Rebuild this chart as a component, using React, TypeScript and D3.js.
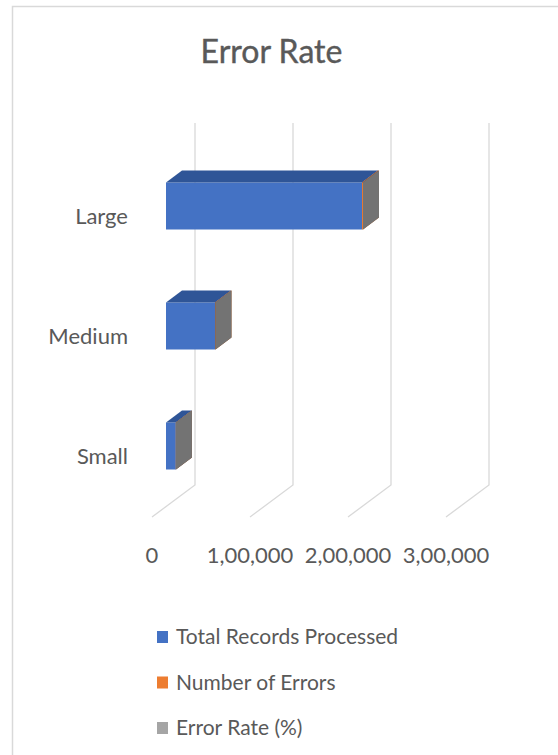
import React from "react";
import * as d3 from "d3";

const categories = ["Large", "Medium", "Small"];
const totalRecords = [200000, 50000, 10000];
const numberOfErrors = [1000, 500, 100];
const errorRatePct = [0.5, 1, 1];
const seriesNames = ["Total Records Processed", "Number of Errors", "Error Rate (%)"];
const xTicks = [0, 100000, 200000, 300000];
const xTickLabels = ["0", "1,00,000", "2,00,000", "3,00,000"];

const W = 558;
const H = 755;
const FONT = "Lato, 'Open Sans', sans-serif";
const TEXT = "#595959";

const colors = [
  { front: "#4472C4", top: "#2F5597", side: "#30528f" },
  { front: "#ED7D31", top: "#C55A11", side: "#b35a1e" },
  { front: "#A5A5A5", top: "#8a8a8a", side: "#737373" },
];

export default function App() {
  const x = d3.scaleLinear().domain([0, 300000]).range([0, 294]);
  const backX0 = 195;
  const barX0 = 166;
  const floorDx = -43;
  const floorDy = 32;
  const wallTop = 123;
  const wallBottom = 485;
  const depthDx = 16;
  const depthDy = -12;

  const y = d3.scaleBand<string>().domain(categories).range([146, 506]);
  const barH = 47;

  const gridPath = (v: number) => {
    const xb = backX0 + x(v);
    return d3.line()([
      [xb, wallTop],
      [xb, wallBottom],
      [xb + floorDx, wallBottom + floorDy],
    ]) as string;
  };

  const series = [totalRecords, numberOfErrors, errorRatePct];

  const bars: JSX.Element[] = [];
  categories.forEach((c, i) => {
    const yc = (y(c) as number) + y.bandwidth() / 2;
    const top = yc - barH / 2;
    const bottom = yc + barH / 2;
    let cum = 0;
    series.forEach((s, si) => {
      const v0 = cum;
      const v1 = cum + s[i];
      cum = v1;
      const x0 = barX0 + x(v0);
      const x1 = barX0 + x(v1);
      const col = colors[si];
      const poly = (pts: [number, number][]) => pts.map((p) => p.join(",")).join(" ");
      bars.push(
        <g key={`${c}-${si}`}>
          <rect x={x0} y={top} width={Math.max(0, x1 - x0)} height={barH} fill={col.front} />
          <polygon
            points={poly([
              [x0, top],
              [x1, top],
              [x1 + depthDx, top + depthDy],
              [x0 + depthDx, top + depthDy],
            ])}
            fill={col.top}
          />
          <polygon
            points={poly([
              [x1, top],
              [x1 + depthDx, top + depthDy],
              [x1 + depthDx, bottom + depthDy],
              [x1, bottom],
            ])}
            fill={col.side}
          />
        </g>
      );
    });
  });

  return (
    <div style={{ position: "absolute", left: 0, top: 0 }}>
      <svg width={W} height={H} style={{ display: "block", background: "#fff" }}>
        <rect x={12.5} y={6.5} width={600} height={800} fill="#fff" stroke="#d9d9d9" strokeWidth={1.5} />
        <text x={271.5} y={63} textAnchor="middle" fontFamily={FONT} fontSize={32} fill={TEXT} stroke={TEXT} strokeWidth={0.4}>
          Error Rate
        </text>
        {xTicks.map((t) => (
          <path key={t} d={gridPath(t)} fill="none" stroke="#d9d9d9" strokeWidth={1.3} />
        ))}
        {bars}
        {categories.map((c) => (
          <text
            key={c}
            x={128}
            y={(y(c) as number) + y.bandwidth() / 2 + 18}
            textAnchor="end"
            fontFamily={FONT}
            fontSize={22}
            fill={TEXT}
          >
            {c}
          </text>
        ))}
        {xTicks.map((t, i) => (
          <text
            key={t}
            x={backX0 + x(t) + floorDx}
            y={563}
            textAnchor="middle"
            fontFamily={FONT}
            fontSize={22}
            fill={TEXT}
          >
            {xTickLabels[i]}
          </text>
        ))}
        {seriesNames.map((n, i) => (
          <g key={n} transform={`translate(157, ${631 + i * 45.5})`}>
            <rect x={0} y={0} width={11} height={12} fill={colors[i].front} />
            <text x={19} y={13} fontFamily={FONT} fontSize={21} fill={TEXT}>
              {n}
            </text>
          </g>
        ))}
      </svg>
    </div>
  );
}
